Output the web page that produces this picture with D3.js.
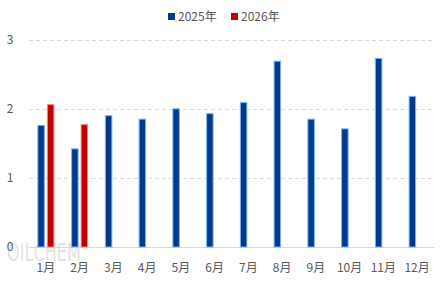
<!DOCTYPE html>
<html>
<head>
<meta charset="utf-8">
<script src="https://cdn.jsdelivr.net/npm/d3@7/dist/d3.min.js"></script>
<style>
  body { margin: 0; background: #fff; }
  svg { display: block; font-family: "Noto Sans CJK SC", "Noto Sans", sans-serif; }
</style>
</head>
<body>
<svg id="chart" width="444" height="283"></svg>
<script>
const months = ["1月", "2月", "3月", "4月", "5月", "6月", "7月", "8月", "9月", "10月", "11月", "12月"];
const seriesNames = ["2025年", "2026年"];
const values2025 = [1.77, 1.43, 1.91, 1.86, 2.01, 1.94, 2.10, 2.70, 1.86, 1.72, 2.74, 2.19];
const values2026 = [2.07, 1.78];
const yTicks = [0, 1, 2, 3];

const fills = ["#003a8c", "#c00000"];
const strokes = ["#7fb3f5", "#ee8a8a"];

const width = 444, height = 283;
const margin = { top: 40, right: 10, bottom: 36, left: 29 };

const svg = d3.select("#chart");

const x = d3.scaleBand()
  .domain(months)
  .range([margin.left, width - margin.right])
  .paddingInner(0)
  .paddingOuter(0);

const x1 = d3.scaleBand()
  .domain(seriesNames)
  .range([0, x.bandwidth()])
  .paddingInner(0.21)
  .paddingOuter(0.88);

const y = d3.scaleLinear()
  .domain([0, 3])
  .range([height - margin.bottom, margin.top]);

// watermark
svg.append("text")
  .attr("x", 7)
  .attr("y", 261)
  .attr("font-size", 25)
  .attr("font-family", "Liberation Sans Narrow, DejaVu Sans Condensed, sans-serif")
  .attr("textLength", 74)
  .attr("lengthAdjust", "spacingAndGlyphs")
  .attr("fill", "#e3e3e3")
  .text("OILCHEM");

// gridlines
svg.append("g")
  .selectAll("line")
  .data(yTicks.filter(d => d > 0))
  .join("line")
  .attr("x1", margin.left)
  .attr("x2", width - margin.right)
  .attr("y1", d => Math.round(y(d)) + 0.5)
  .attr("y2", d => Math.round(y(d)) + 0.5)
  .attr("stroke", "#d9d9d9")
  .attr("stroke-dasharray", "4,3");

// baseline
svg.append("line")
  .attr("x1", margin.left)
  .attr("x2", width - margin.right)
  .attr("y1", Math.round(y(0)) + 0.5)
  .attr("y2", Math.round(y(0)) + 0.5)
  .attr("stroke", "#d9d9d9");

// y labels
svg.append("g")
  .selectAll("text")
  .data(yTicks)
  .join("text")
  .attr("x", 10)
  .attr("y", d => y(d))
  .attr("dy", "0.35em")
  .attr("text-anchor", "middle")
  .attr("font-size", 12)
  .attr("fill", "#595959")
  .text(d => d);

// bars
const rows = months.map((m, i) => ({
  month: m,
  vals: [values2025[i], values2026[i]]
}));

const groups = svg.append("g")
  .selectAll("g")
  .data(rows)
  .join("g")
  .attr("transform", d => `translate(${x(d.month)},0)`);

groups.selectAll("rect")
  .data(d => seriesNames.map((s, j) => ({ s, j, v: d.vals[j] })).filter(e => e.v != null))
  .join("rect")
  .attr("x", d => x1(d.s) + 0.5)
  .attr("y", d => y(d.v) + 0.5)
  .attr("width", x1.bandwidth() - 1)
  .attr("height", d => y(0) - y(d.v) - 0.5)
  .attr("fill", d => fills[d.j])
  .attr("stroke", d => strokes[d.j])
  .attr("stroke-width", 1);

// x labels
svg.append("g")
  .selectAll("text")
  .data(months)
  .join("text")
  .attr("x", d => x(d) + x.bandwidth() / 2)
  .attr("y", 268)
  .attr("dy", "0.35em")
  .attr("text-anchor", "middle")
  .attr("font-size", 12)
  .attr("fill", "#595959")
  .text(d => d);

// legend
const legend = svg.append("g");
const legendX = [168, 231];
seriesNames.forEach((s, j) => {
  legend.append("rect")
    .attr("x", legendX[j])
    .attr("y", 13)
    .attr("width", 7)
    .attr("height", 7)
    .attr("fill", fills[j]);
  legend.append("text")
    .attr("x", legendX[j] + 10)
    .attr("y", 16.5)
    .attr("dy", "0.35em")
    .attr("font-size", 12)
    .attr("fill", "#595959")
    .text(s);
});
</script>
</body>
</html>
